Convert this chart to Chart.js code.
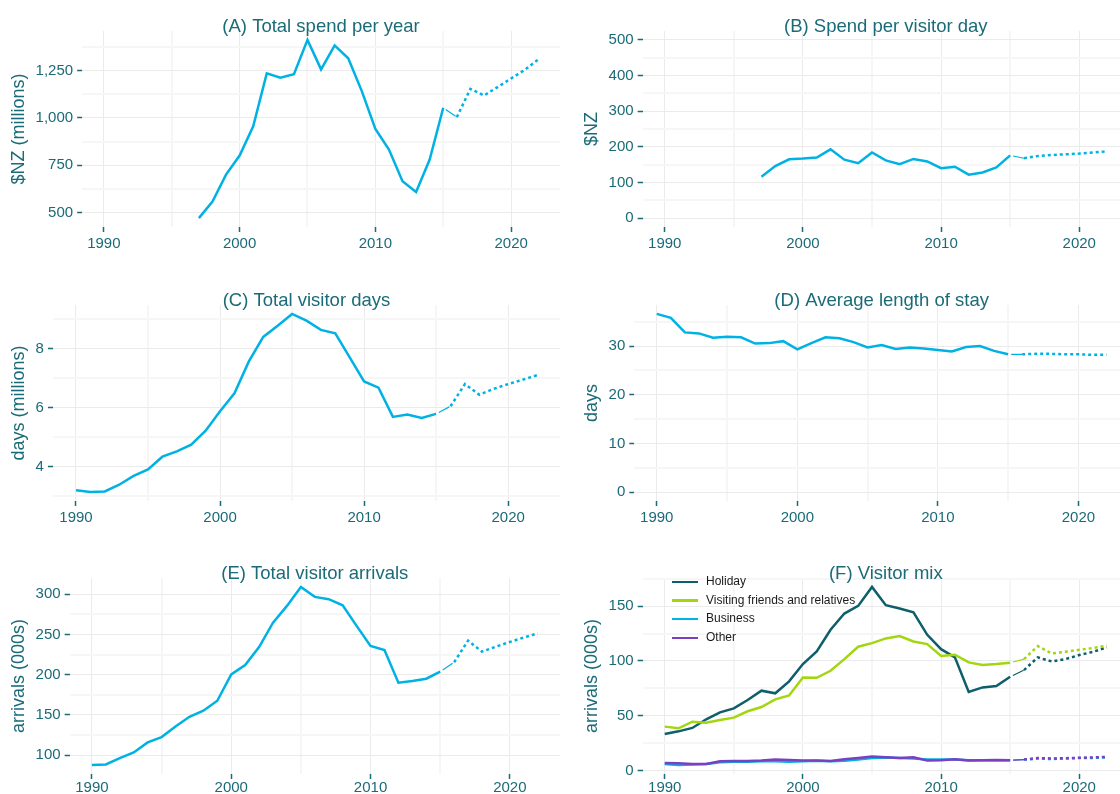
<!DOCTYPE html>
<html lang="en">
<head>
    <meta charset="UTF-8">
    <title>Visitor trends</title>
    <script src="https://cdn.jsdelivr.net/npm/chart.js"></script>
    <style>
    html, body {
        margin: 0;
        padding: 0;
        width: 1120px;
        height: 794px;
        overflow: hidden;
        background: white;
        font-family: "Liberation Sans", Arial, sans-serif;
    }
    canvas {
        position: absolute;
    }
    .legend {
        position: absolute;
        left: 672px;
        top: 572px;
        font-size: 12px;
        color: #1a1a1a;
    }
    .legend div {
        height: 18.7px;
        line-height: 18.7px;
        white-space: nowrap;
    }
    .legend span {
        display: inline-block;
        width: 26px;
        height: 2.5px;
        margin-right: 8px;
        vertical-align: middle;
    }
</style>
</head>
<body>
    <canvas id="chartA" width="560" height="254" style="left:0px;top:2px"></canvas>
    <canvas id="chartB" width="569" height="254" style="left:560px;top:2px"></canvas>
    <canvas id="chartC" width="560" height="254" style="left:0px;top:276px"></canvas>
    <canvas id="chartD" width="569" height="254" style="left:560px;top:276px"></canvas>
    <canvas id="chartE" width="560" height="248" style="left:0px;top:549px"></canvas>
    <canvas id="chartF" width="569" height="248" style="left:560px;top:549px"></canvas>

    <div class="legend">
        <div><span style="background:#0E5E6B"></span>Holiday</div>
        <div><span style="background:#A2D60E"></span>Visiting friends and relatives</div>
        <div><span style="background:#00B2E3"></span>Business</div>
        <div><span style="background:#7A40C2"></span>Other</div>
    </div>

    <script>
        // years with actual data, and forecast years (start at 2015 to join the lines)
        const years = [1990, 1991, 1992, 1993, 1994, 1995, 1996, 1997, 1998, 1999, 2000, 2001, 2002,
                       2003, 2004, 2005, 2006, 2007, 2008, 2009, 2010, 2011, 2012, 2013, 2014, 2015];
        const forecastYears = [2015, 2016, 2017, 2018, 2019, 2020, 2021, 2022];

        // (A) total spend per year, $NZ millions
        const spendTotal = [null, null, null, null, null, null, null, 470, 558, 700, 801, 956, 1236,
                            1213, 1231, 1413, 1257, 1384, 1316, 1142, 942, 833, 665, 608, 780, 1054];
        const spendTotalFc = [1054, 1004, 1154, 1119, 1163, 1209, 1254, 1310];

        // (B) spend per visitor day, $NZ
        const spendPerDay = [null, null, null, null, null, null, null, 116, 146, 165, 167, 170, 193,
                             164, 154, 184, 162, 151, 166, 159, 140, 144, 122, 128, 142, 176];
        const spendPerDayFc = [176, 168, 174, 177, 179, 181, 184, 187];

        // (C) total visitor days, millions
        const visitorDays = [3.20, 3.14, 3.16, 3.39, 3.69, 3.91, 4.34, 4.52, 4.75, 5.22, 5.88, 6.49, 7.57,
                             8.40, 8.78, 9.18, 8.95, 8.64, 8.52, 7.71, 6.89, 6.68, 5.69, 5.77, 5.65, 5.79];
        const visitorDaysFc = [5.79, 6.05, 6.80, 6.44, 6.64, 6.80, 6.95, 7.10];

        // (D) average length of stay, days
        const stayLength = [36.6, 35.8, 32.8, 32.6, 31.7, 31.9, 31.8, 30.5, 30.6, 31.0, 29.3, 30.6, 31.8,
                            31.6, 30.8, 29.7, 30.2, 29.4, 29.7, 29.5, 29.2, 28.9, 29.8, 30.0, 29.0, 28.3];
        const stayLengthFc = [28.3, 28.3, 28.4, 28.4, 28.3, 28.3, 28.2, 28.2];

        // (E) total visitor arrivals, 000s
        const arrivals = [87.6, 88.4, 96.3, 103.3, 115.8, 122.4, 135.7, 147.7, 155.2, 167.6, 200.4, 212.0, 234.4,
                          264.7, 285.5, 309.1, 296.7, 293.8, 286.3, 260.6, 235.7, 230.7, 190.0, 192.1, 195.0, 203.7];
        const arrivalsFc = [203.7, 215.4, 242.3, 228.6, 234.9, 240.7, 246.1, 251.5];

        // (F) visitor mix, arrivals 000s
        const holiday = [33.4, 35.8, 38.9, 46.8, 53.1, 56.8, 64.4, 72.9, 70.5, 81.4, 97.2, 108.7, 128.5,
                         143.3, 150.3, 167.6, 150.9, 147.9, 144.5, 123.9, 110.8, 103.3, 71.7, 75.9, 77.1, 85.6];
        const holidayFc = [85.6, 91.7, 103.3, 99.6, 101.7, 105.4, 108.4, 112.4];
        const vfr = [40.1, 38.6, 44.6, 43.7, 46.2, 48.3, 54.1, 58.0, 65.0, 68.6, 85.0, 84.7, 91.1,
                     101.7, 113.0, 116.3, 120.6, 122.7, 117.8, 115.4, 104.5, 105.7, 98.7, 96.3, 97.2, 98.4];
        const vfrFc = [98.4, 101.7, 113.6, 106.9, 108.4, 110.2, 111.8, 113.9];
        const business = [6.0, 5.0, 5.5, 6.0, 7.5, 8.0, 8.0, 8.5, 8.5, 8.0, 8.5, 9.0, 8.5,
                          9.0, 10.0, 11.5, 12.0, 11.5, 11.0, 10.0, 10.0, 10.0, 9.5, 9.5, 9.5, 9.5];
        const businessFc = [9.5, 10.0, 11.0, 10.5, 11.0, 11.5, 11.5, 12.0];
        const other = [7.0, 6.7, 6.1, 6.1, 8.5, 8.8, 8.8, 9.1, 10.0, 9.7, 9.1, 9.1, 8.8,
                       10.3, 11.5, 12.8, 12.1, 11.5, 12.1, 9.1, 9.4, 10.3, 9.1, 9.4, 9.7, 9.4];
        const otherFc = [9.4, 10.0, 11.5, 11.0, 11.3, 11.7, 12.0, 12.5];

        // tick labels (major get a label, minor only a faint grid line)
        const yearMajor = [1990, 2000, 2010, 2020];
        const yearMinor = [1995, 2005, 2015];
        const ticksA = { major: [500, 750, 1000, 1250], minor: [625, 875, 1125, 1375] };
        const ticksB = { major: [0, 100, 200, 300, 400, 500], minor: [50, 150, 250, 350, 450] };
        const ticksC = { major: [4, 6, 8], minor: [3, 5, 7, 9] };
        const ticksD = { major: [0, 10, 20, 30], minor: [5, 15, 25, 35] };
        const ticksE = { major: [100, 150, 200, 250, 300], minor: [75, 125, 175, 225, 275] };
        const ticksF = { major: [0, 50, 100, 150], minor: [25, 75, 125, 175] };

        const FONT = '"Liberation Sans", Arial, sans-serif';
        const TEAL = '#1A6B78';
        const BLUE = '#00B2E3';

        function xy(xs, ys) {
            return xs.map((x, i) => ({ x: x, y: ys[i] }));
        }

        // ggplot style 5% expansion of the data range
        function expand(lists) {
            const vals = [].concat(...lists).filter(v => v !== null);
            const lo = Math.min(...vals), hi = Math.max(...vals);
            const pad = (hi - lo) * 0.05;
            return [lo - pad, hi + pad];
        }

        function gridOpts(major) {
            return {
                color: c => (c.tick && major.includes(c.tick.value)) ? '#EBEBEB' : '#F6F6F6',
                lineWidth: c => (c.tick && major.includes(c.tick.value)) ? 1 : 2,
                tickColor: c => (c.tick && major.includes(c.tick.value)) ? TEAL : 'rgba(0,0,0,0)',
                tickLength: 5,
                tickWidth: 1.5
            };
        }

        function lineSet(data, color, order) {
            return {
                data: data,
                borderColor: color,
                borderWidth: 2.5,
                pointRadius: 0,
                tension: 0,
                order: order
            };
        }

        function forecastSet(data, color, order) {
            return {
                data: data,
                borderColor: color,
                borderWidth: 2.5,
                borderDash: [3, 3],
                pointRadius: 0,
                tension: 0,
                order: order,
                segment: {
                    // thin joining piece between last actual and first forecast
                    borderWidth: c => c.p0DataIndex === 0 ? 1.2 : undefined,
                    borderDash: c => c.p0DataIndex === 0 ? [0, 3, 12, 30] : undefined
                }
            };
        }

        function makePanel(id, title, yTitle, datasets, yRange, yTicks, padLeft, fmt, xPad) {
            const yAll = yTicks.major.concat(yTicks.minor).sort((a, b) => a - b)
                .filter(v => v >= yRange[0] && v <= yRange[1]);
            const xAll = yearMajor.concat(yearMinor).sort((a, b) => a - b);
            new Chart(document.getElementById(id), {
                type: 'line',
                data: { datasets: datasets },
                options: {
                    responsive: false,
                    animation: false,
                    events: [],
                    layout: { padding: { left: padLeft, right: 0, top: 0, bottom: 0 } },
                    plugins: {
                        legend: { display: false },
                        tooltip: { enabled: false },
                        title: {
                            display: true,
                            text: title,
                            color: TEAL,
                            fullSize: false,
                            font: { family: FONT, size: 18.5, weight: 'normal', lineHeight: 1 },
                            padding: { top: 15.75, bottom: -5.25 }
                        }
                    },
                    scales: {
                        x: {
                            type: 'linear',
                            min: 1988.4,
                            max: 2023.6,
                            afterBuildTicks: s => { s.ticks = xAll.map(v => ({ value: v })); },
                            ticks: {
                                autoSkip: false,
                                maxRotation: 0,
                                padding: xPad,
                                color: TEAL,
                                font: { family: FONT, size: 15 },
                                callback: v => yearMajor.includes(v) ? String(v) : ''
                            },
                            grid: gridOpts(yearMajor),
                            border: { display: false }
                        },
                        y: {
                            min: yRange[0],
                            max: yRange[1],
                            afterBuildTicks: s => { s.ticks = yAll.map(v => ({ value: v })); },
                            ticks: {
                                autoSkip: false,
                                padding: 4,
                                color: TEAL,
                                font: { family: FONT, size: 15 },
                                callback: v => yTicks.major.includes(v) ? fmt(v) : ''
                            },
                            title: {
                                display: true,
                                text: yTitle,
                                color: TEAL,
                                font: { family: FONT, size: 18 },
                                padding: { top: 0, bottom: 2 }
                            },
                            grid: gridOpts(yTicks.major),
                            border: { display: false }
                        }
                    }
                }
            });
        }

        const plain = v => String(v);
        const comma = v => v.toLocaleString('en-US');

        makePanel('chartA', '(A) Total spend per year', '$NZ (millions)',
            [lineSet(xy(years, spendTotal), BLUE, 0), forecastSet(xy(forecastYears, spendTotalFc), BLUE, 1)],
            expand([spendTotal, spendTotalFc]), ticksA, 8, comma, 3);

        makePanel('chartB', '(B) Spend per visitor day', '$NZ',
            [lineSet(xy(years, spendPerDay), BLUE, 0), forecastSet(xy(forecastYears, spendPerDayFc), BLUE, 1)],
            expand([[0, 500]]), ticksB, 21, plain, 3);

        makePanel('chartC', '(C) Total visitor days', 'days (millions)',
            [lineSet(xy(years, visitorDays), BLUE, 0), forecastSet(xy(forecastYears, visitorDaysFc), BLUE, 1)],
            expand([visitorDays, visitorDaysFc]), ticksC, 8, plain, 3);

        makePanel('chartD', '(D) Average length of stay', 'days',
            [lineSet(xy(years, stayLength), BLUE, 0), forecastSet(xy(forecastYears, stayLengthFc), BLUE, 1)],
            expand([[0], stayLength, stayLengthFc]), ticksD, 21, plain, 3);

        makePanel('chartE', '(E) Total visitor arrivals', 'arrivals (000s)',
            [lineSet(xy(years, arrivals), BLUE, 0), forecastSet(xy(forecastYears, arrivalsFc), BLUE, 1)],
            expand([arrivals, arrivalsFc]), ticksE, 8, plain, 0);

        // draw order: Other on top, then Business, VFR, Holiday
        makePanel('chartF', '(F) Visitor mix', 'arrivals (000s)',
            [
                lineSet(xy(years, holiday), '#0E5E6B', 6),
                forecastSet(xy(forecastYears, holidayFc), '#0E5E6B', 7),
                lineSet(xy(years, vfr), '#A2D60E', 4),
                forecastSet(xy(forecastYears, vfrFc), '#A2D60E', 5),
                lineSet(xy(years, business), BLUE, 2),
                forecastSet(xy(forecastYears, businessFc), BLUE, 3),
                lineSet(xy(years, other), '#7A40C2', 0),
                forecastSet(xy(forecastYears, otherFc), '#7A40C2', 1)
            ],
            expand([holiday, holidayFc, vfr, vfrFc, business, businessFc, other, otherFc]), ticksF, 21, plain, 0);
    </script>
</body>
</html>
